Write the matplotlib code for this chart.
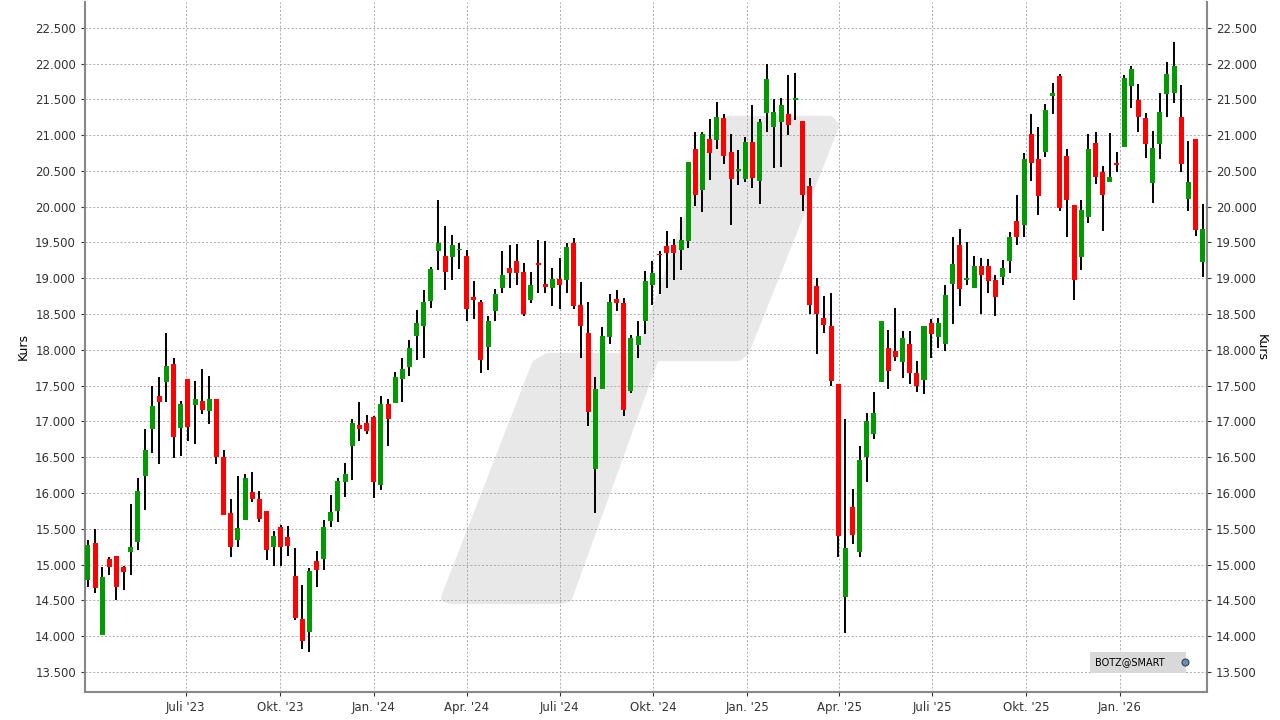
import matplotlib
matplotlib.use("Agg")
import matplotlib.pyplot as plt
import matplotlib.dates as mdates
from matplotlib.patches import Polygon, Rectangle
from matplotlib.ticker import FuncFormatter, MultipleLocator
import numpy as np
import pandas as pd

start_date = "2023-03-27"
opens = [14790,15300,14010,15080,15120,14970,15170,15320,16240,16900,17360,17550,17800,16910,17590,17230,17280,17150,17320,16500,
         15720,15340,15630,16010,15920,15750,15240,15520,15390,14840,14240,14060,15050,15080,15610,15750,16160,16650,16950,16980,
         17060,16110,17240,17260,17590,17760,18190,18340,18680,19380,19310,19300,19390,19310,18740,18670,18040,18540,18860,19140,
         19240,19090,18700,19220,18920,18860,18990,18970,19490,18630,18230,16340,17450,18180,18710,18660,17430,18070,18400,18900,
         19340,19450,19470,19390,19520,20810,20240,20950,20930,21240,20760,20500,20390,20910,20360,21310,21110,21190,21290,21490,
         21200,20290,18890,18440,18340,17530,14550,15800,15180,16500,16830,17550,18020,17980,17830,18080,17670,17580,18380,18180,
         18080,18920,19470,18980,18860,19170,19170,18970,19020,19240,19800,19740,21020,20660,20760,21550,21820,20710,20020,19300,
         19860,20890,20490,20340,20600,20830,21690,21490,21240,20330,20880,21580,21590,21260,20110,20950,19230]
highs = [15350,15500,14970,15110,15120,14980,15850,16210,16900,17490,17620,18240,17890,17280,17590,17570,17730,17640,17320,16600,
         15920,16240,16270,16290,16030,15750,15470,15560,15540,15230,14710,14950,15190,15630,15970,16210,16420,17030,17270,17090,
         17070,17350,17320,17690,17880,18140,18550,18840,19160,20100,19730,19600,19490,19390,18960,18700,18480,18850,19380,19460,
         19480,19210,19090,19530,19520,19140,19280,19490,19560,18950,18670,17620,18320,18780,18840,18730,18210,18410,19100,19240,
         19380,19660,19550,19860,20630,21050,21050,21230,21460,21290,21010,20790,20970,21420,21230,22000,21510,21520,21840,21870,
         21200,20400,19000,18750,18790,17530,17030,16050,16660,17120,17410,18410,18280,18590,18270,18270,17840,18340,18430,18440,
         18900,19580,19690,19510,19310,19280,19270,19040,19260,19650,20160,20750,21290,21110,21440,21730,21850,20810,20020,20090,
         21010,21050,20570,21030,20770,21840,21960,21710,21310,21060,21590,22020,22300,21700,20920,20950,20040]
lows = [14680,14610,14010,14850,14500,14650,14860,15200,15760,16560,16400,17270,16490,16520,16720,16690,17100,16970,16400,15690,
        15110,15240,15630,15880,15590,15060,14980,14980,15120,14220,13820,13780,14680,14930,15520,15590,15950,16180,16730,16820,
        15930,16040,16660,17260,17270,17630,17860,17880,18590,19110,18830,18970,19130,18410,18430,17680,17720,18400,18790,18870,
        18900,18470,18660,18800,18790,18610,18570,18790,18570,17880,16940,15720,17450,18080,18540,17080,17400,17880,18220,18630,
        18780,18870,18970,19110,19420,20010,19930,20380,20810,20600,19750,20300,20340,20260,20040,21040,20540,20560,21000,21210,
        19940,18500,17940,18240,17500,15100,14040,15290,15100,16150,16750,17550,17460,17850,17600,17530,17410,17390,17890,18030,
        17990,18360,18610,18900,18860,18500,18800,18480,18900,19070,19470,19570,20360,19890,20690,21300,19940,19580,18700,19120,
        19770,20320,19660,20340,20480,20830,21380,21040,20680,20050,20660,21260,21450,20480,19940,19590,19020]
closes = [15280,14670,14820,14960,14680,14900,15250,16030,16600,17210,17270,17770,16780,17250,16920,17310,17160,17320,16510,15690,
          15250,15510,16210,15920,15640,15200,15400,15250,15260,14250,13930,14910,14930,15530,15740,16170,16260,16980,16900,16860,
          16150,17240,17040,17620,17730,18030,18370,18670,19130,19490,19090,19460,19410,18570,18700,17860,18410,18780,19050,19070,
          19070,18500,18910,19190,18880,18990,18900,19440,18610,18330,17130,17450,18190,18670,18660,17160,18170,18200,18960,19070,
          19320,19360,19360,19540,20630,20170,21010,20750,21260,20710,20390,20520,20900,20400,21180,21790,21330,21420,21140,21520,
          20160,18630,18500,18350,17570,15400,15230,15420,16460,17010,17120,18410,17710,17900,18160,17670,17490,18340,18220,18370,
          18760,19200,18850,18990,19170,19040,18960,18740,19150,19580,19580,20670,20610,20150,21350,21590,19980,20090,18970,19950,
          20810,20410,20160,20420,20580,21800,21920,21260,20870,20820,21320,21850,21960,20590,20350,19680,19690]

fig = plt.figure(figsize=(12.8, 7.2), dpi=100)
ax = fig.add_axes([85/1280, 28/720, (1207-85)/1280, (718-28)/720])

dates = pd.date_range(start_date, periods=len(opens), freq="7D")
x = mdates.date2num(dates)

# watermark
def px(pts):
    return [((a-85)/(1207-85), (692-b)/(692-2)) for a, b in pts]
wm = "#e8e8e8"
ax.add_patch(Polygon(px([(445,598),(536,364),(548,357),(655,357),(568,598),(560,600),(452,600)]),
                     closed=True, transform=ax.transAxes, fc=wm, ec=wm, lw=6, joinstyle="round", zorder=0))
ax.add_patch(Polygon(px([(640,357),(720,124),(728,120),(830,120),(835,126),(745,352),(738,357)]),
                     closed=True, transform=ax.transAxes, fc=wm, ec=wm, lw=6, joinstyle="round", zorder=0))

width = 4.9
for xi, o, h, l, c in zip(x, opens, highs, lows, closes):
    col = "#009900" if c >= o else "#ff0000"
    ax.vlines(xi, l, h, color="black", lw=1.4, zorder=2)
    lo, hi = min(o, c), max(o, c)
    hgt = max(hi - lo, 25)
    ax.add_patch(Rectangle((xi - width/2, lo), width, hgt, fc=col, ec="none", zorder=3))

ax.set_xlim(x[0] - 0.4*7, x[-1] + 0.6*7)
ax.set_ylim(13220, 22860)

ax.yaxis.set_major_locator(MultipleLocator(500))
ax.yaxis.set_major_formatter(FuncFormatter(lambda v, p: f"{int(v):,}".replace(",", ".")))
ax.tick_params(axis="y", which="both", left=True, right=True, labelleft=True, labelright=True,
               labelsize=8.5, length=3, colors="#333333")
ax.set_ylabel("Kurs", fontsize=9)
ax2 = ax.secondary_yaxis("right")
ax2.set_yticks([])
ax2.set_ylabel("Kurs", fontsize=9, rotation=-90, labelpad=44)
ax2.spines["right"].set_visible(False)

mon = {1: "Jan.", 4: "Apr.", 7: "Juli", 10: "Okt."}
tick_dates = pd.date_range("2023-07-01", "2026-01-01", freq="QS-JAN")
ax.set_xticks(mdates.date2num(tick_dates))
ax.set_xticklabels([f"{mon[d.month]} '{d.strftime('%y')}" for d in tick_dates], fontsize=8.5)
ax.tick_params(axis="x", length=3, colors="#333333")

ax.grid(True, color="#aaaaaa", linestyle=(0, (2, 2)), lw=0.7)
ax.set_axisbelow(True)
ax.spines["top"].set_visible(False)
for s in ["left", "right", "bottom"]:
    ax.spines[s].set_color("#888888")
    ax.spines[s].set_linewidth(1.5)

ax.text(0.9385, 0.043, "BOTZ@SMART     ", transform=ax.transAxes, fontsize=7, ha="center", va="center",
        bbox=dict(boxstyle="square,pad=0.55", fc="#d9d9d9", ec="none"), zorder=5)
ax.plot([0.9805], [0.043], marker="o", ms=5, mfc="#6a8fb5", mec="#334455", mew=0.8,
        transform=ax.transAxes, zorder=6)

fig.savefig("out.png", dpi=100)
